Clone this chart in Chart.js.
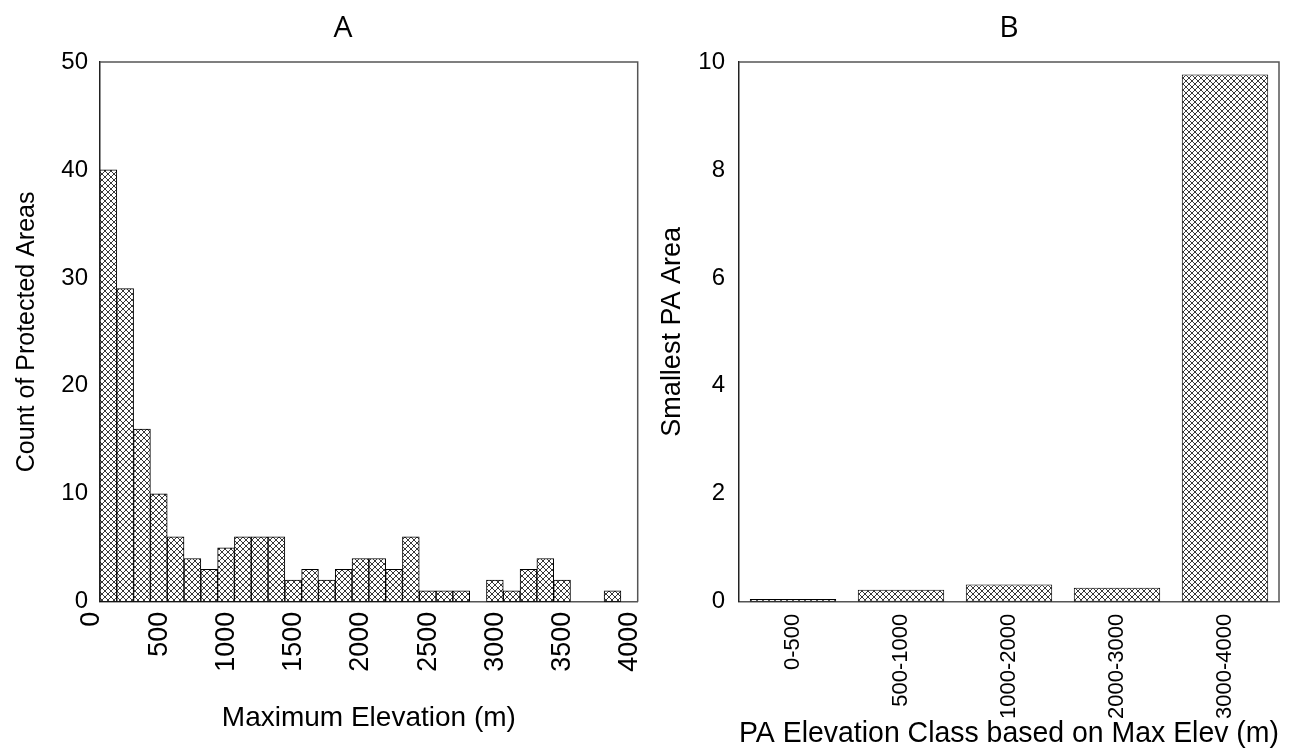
<!DOCTYPE html>
<html>
<head>
<meta charset="utf-8">
<script src="https://cdn.jsdelivr.net/npm/chart.js@4.4.0/dist/chart.umd.min.js"></script>
<style>
  html, body { margin: 0; padding: 0; background: #fff; overflow: hidden; }
  .box { position: absolute; top: 0; height: 752px; }
  #boxA { left: 0; width: 686px; }
  #boxB { left: 655px; width: 655px; }
</style>
</head>
<body>
<div class="box" id="boxA"><canvas id="chartA"></canvas></div>
<div class="box" id="boxB"><canvas id="chartB"></canvas></div>
<script>
// Panel A: histogram of maximum elevation, 125 m bins starting at 0
const binWidth = 125;
const elevCounts = [40, 29, 16, 10, 6, 4, 3, 5, 6, 6, 6, 2, 3, 2, 3, 4, 4, 3, 6, 1, 1, 1, 0, 2, 1, 3, 4, 2, 0, 0, 1];
const elevTicks = [0, 500, 1000, 1500, 2000, 2500, 3000, 3500, 4000];

// Panel B: smallest PA area per elevation class
const classLabels = ['0-500', '500-1000', '1000-2000', '2000-3000', '3000-4000'];
const smallestArea = [0.05, 0.22, 0.32, 0.26, 9.77];

const FONT = "'Liberation Sans', Arial, sans-serif";

// cross hatch fill like the original
function crossHatch() {
    const c = document.createElement('canvas');
    c.width = c.height = 6;
    const g = c.getContext('2d');
    g.fillStyle = '#fff';
    g.fillRect(0, 0, 6, 6);
    g.strokeStyle = '#222';
    g.lineWidth = 0.9;
    g.beginPath();
    g.moveTo(0, 0); g.lineTo(6, 6);
    g.moveTo(6, 0); g.lineTo(0, 6);
    g.stroke();
    return g.createPattern(c, 'repeat');
}
const hatch = crossHatch();

// top + right frame lines
const frame = {
    id: 'frame',
    afterDraw(chart) {
        const a = chart.chartArea, ctx = chart.ctx;
        ctx.save();
        ctx.strokeStyle = '#555';
        ctx.lineWidth = 1.5;
        ctx.beginPath();
        ctx.moveTo(a.left, a.top);
        ctx.lineTo(a.right, a.top);
        ctx.lineTo(a.right, a.bottom);
        ctx.stroke();
        ctx.restore();
    }
};

Chart.defaults.font.family = FONT;
Chart.defaults.color = '#000';
Chart.defaults.animation = false;

const histData = elevCounts.map((v, i) => ({ x: i * binWidth + binWidth / 2, y: v }));

new Chart(document.getElementById('chartA'), {
    type: 'bar',
    data: {
        datasets: [{
            data: histData,
            backgroundColor: hatch,
            borderColor: '#000',
            borderWidth: 1,
            borderSkipped: false,
            barPercentage: 1,
            categoryPercentage: 1
        }]
    },
    options: {
        responsive: true,
        maintainAspectRatio: false,
        // left padding shifts the centred "A" title
        layout: { padding: { left: 48.3, right: 48.3, top: 0, bottom: 0 } },
        plugins: {
            legend: { display: false },
            tooltip: { enabled: false },
            title: {
                display: true,
                text: 'A',
                font: { family: "'Open Sans', sans-serif", size: 30, weight: 'normal' },
                padding: { top: 10, bottom: 16 }
            }
        },
        scales: {
            x: {
                type: 'linear',
                min: 0,
                max: 4000,
                offset: false,
                afterBuildTicks: s => { s.ticks = elevTicks.map(v => ({ value: v })); },
                afterFit: s => { s.height = 150.3; },
                grid: { display: false, drawTicks: false },
                border: { color: '#555', width: 1.5 },
                ticks: {
                    minRotation: 90,
                    maxRotation: 90,
                    padding: 10,
                    labelOffset: -8,
                    font: { size: 27 },
                    callback: v => String(v)
                },
                title: {
                    display: true,
                    text: 'Maximum Elevation (m)',
                    font: { size: 28 },
                    padding: { bottom: 17 }
                }
            },
            y: {
                min: 0,
                max: 50,
                afterFit: s => { s.width = 51.7; },
                grid: { display: false, drawTicks: false },
                border: { color: '#222', width: 1.5 },
                ticks: { stepSize: 10, padding: 12, font: { size: 24 } },
                title: {
                    display: true,
                    text: 'Count of Protected Areas',
                    font: { size: 25 },
                    padding: { top: -36 }
                }
            }
        }
    },
    plugins: [frame]
});

new Chart(document.getElementById('chartB'), {
    type: 'bar',
    data: {
        labels: classLabels,
        datasets: [{
            data: smallestArea,
            backgroundColor: hatch,
            borderColor: '#000',
            borderWidth: 1,
            borderSkipped: false,
            barPercentage: 0.8,
            categoryPercentage: 1
        }]
    },
    options: {
        responsive: true,
        maintainAspectRatio: false,
        layout: { padding: { left: 0, right: 31, top: 0, bottom: 0 } },
        plugins: {
            legend: { display: false },
            tooltip: { enabled: false },
            title: {
                display: true,
                text: 'B',
                fullSize: false,
                font: { family: "'Open Sans', sans-serif", size: 30, weight: 'normal' },
                padding: { top: 10, bottom: 16 }
            }
        },
        scales: {
            x: {
                afterFit: s => { s.height = 150.3; },
                grid: { display: false, drawTicks: false },
                border: { color: '#555', width: 1.5 },
                ticks: {
                    minRotation: 90,
                    maxRotation: 90,
                    padding: 12,
                    font: { size: 22 }
                },
                title: {
                    display: true,
                    text: 'PA Elevation Class based on Max Elev (m)',
                    font: { size: 30 },
                    padding: { bottom: 0 }
                }
            },
            y: {
                min: 0,
                max: 10,
                afterFit: s => { s.width = 84; },
                grid: { display: false, drawTicks: false },
                border: { color: '#222', width: 1.5 },
                ticks: { stepSize: 2, padding: 14, font: { size: 24 } },
                title: {
                    display: true,
                    text: 'Smallest PA Area',
                    font: { size: 27 },
                    padding: { top: 1 }
                }
            }
        }
    },
    plugins: [frame]
});
</script>
</body>
</html>
